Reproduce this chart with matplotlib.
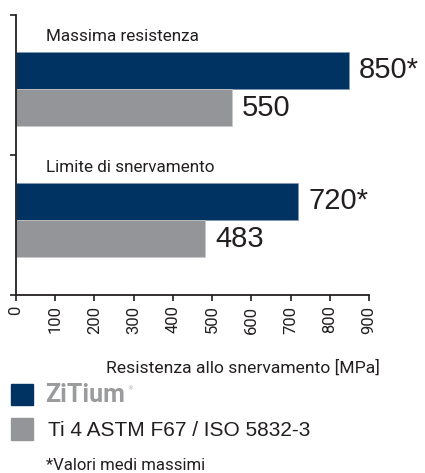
import matplotlib.pyplot as plt
import matplotlib.transforms as mtransforms
from matplotlib.patches import Rectangle
import numpy as np

categories = ['Massima resistenza', 'Limite di snervamento']
zitium = [850, 720]
ti4 = [550, 483]
zitium_labels = ['850*', '720*']
ti4_labels = ['550', '483']
xticks = [0, 100, 200, 300, 400, 500, 600, 700, 800, 900]

navy = '#003361'
grey = '#939598'

fig = plt.figure(figsize=(4.25, 4.73), dpi=100)
ax = fig.add_axes([16 / 425, 1 - 295 / 473, 353 / 425, 280 / 473])

pos = np.arange(len(categories))
h = 0.286
ax.barh(pos - h / 2, zitium, height=h, color=navy, edgecolor='#7f97b0', linewidth=0.5)
ax.barh(pos + h / 2, ti4, height=h, color=grey, edgecolor='#c8c9cb', linewidth=0.5)

ax.set_xlim(0, 900)
ax.set_ylim(1.573, -0.565)

for i, (v, lab) in enumerate(zip(zitium, zitium_labels)):
    ax.annotate(lab, (v, pos[i] - h / 2), xytext=(7, 0), textcoords='offset points',
                va='center', ha='left', fontsize=21, family='Liberation Sans', color='#231f20')
for i, (v, lab) in enumerate(zip(ti4, ti4_labels)):
    ax.annotate(lab, (v, pos[i] + h / 2), xytext=(7, 0), textcoords='offset points',
                va='center', ha='left', fontsize=21, family='Liberation Sans', color='#231f20')

trans = mtransforms.blended_transform_factory(ax.transAxes, ax.transData)
for i, c in enumerate(categories):
    ax.text(0.085, pos[i] - h - 0.115, c, transform=trans, ha='left', va='center',
            fontsize=12.3, family='Roboto', color='#231f20')

for s in ['top', 'right']:
    ax.spines[s].set_visible(False)
for s in ['left', 'bottom']:
    ax.spines[s].set_linewidth(1.3)
    ax.spines[s].set_color('#231f20')

ax.set_yticks([-0.565, 0.504, 1.573])
ax.set_yticklabels([])
ax.set_xticks(xticks)
ax.set_xticklabels([str(t) for t in xticks], rotation=90, fontsize=12, family='Roboto',
                   color='#231f20')
ax.tick_params(axis='both', direction='out', length=4, width=1.2, color='#231f20')

fig.text(380 / 425, 1 - 368 / 473, 'Resistenza allo snervamento [MPa]', ha='right',
         va='center', fontsize=12.6, family='Roboto', color='#231f20')

# legend
fig.patches.append(Rectangle((11 / 425, 1 - 405 / 473), 22 / 425, 21 / 473,
                             transform=fig.transFigure, color=navy, figure=fig))
fig.patches.append(Rectangle((11 / 425, 1 - 440 / 473), 22 / 425, 22 / 473,
                             transform=fig.transFigure, color=grey, figure=fig))
fig.text(45 / 425, 1 - 395 / 473, 'ZiTium', ha='left', va='center', fontsize=18,
         fontweight='bold', family='Roboto', color='#9a9b9d')
fig.text(127 / 425, 1 - 389 / 473, '®', ha='left', va='center', fontsize=4, color='#9a9b9d')
fig.text(48 / 425, 1 - 430 / 473, 'Ti 4 ASTM F67 / ISO 5832-3', ha='left', va='center',
         fontsize=15, family='Liberation Sans', color='#231f20')
fig.text(46 / 425, 1 - 465 / 473, '*Valori medi massimi', ha='left', va='center',
         fontsize=12.1, family='Roboto', color='#231f20')

fig.savefig('out.png', dpi=100)
